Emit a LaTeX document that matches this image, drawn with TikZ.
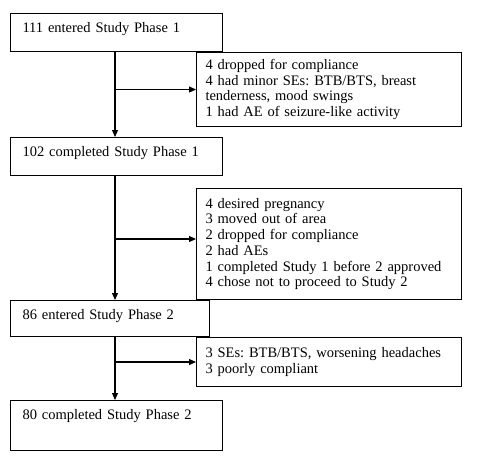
\documentclass[tikz,border=0pt]{standalone}
\usepackage{fontspec}
\setmainfont{Liberation Serif}
\usetikzlibrary{arrows.meta,positioning}
\frenchspacing

\begin{document}
\begin{tikzpicture}[
			x=1pt, y=-1pt,
			>={Triangle[length=7pt,width=6pt]},
			stage/.style={
				draw,
				line width=1pt,
				anchor=north west,
				align=left,
				font=\fontsize{14.5}{15.7}\selectfont,
				inner xsep=12pt,
				inner ysep=4pt,
				text height=15pt
			},
			excl/.style={
				draw,
				line width=1pt,
				anchor=north west,
				align=left,
				font=\fontsize{14.5}{15.7}\selectfont,
				inner xsep=9pt,
				text width=247pt
			}
			]
			
			\useasboundingbox (0,0) rectangle (478,466);
			
			% Main column
			\node[stage,text width=188pt,text depth=15pt] (enter1) at (10,13)
			{111 entered Study Phase 1};
			\node[stage,text width=188pt,text depth=15pt] (done1) at (10,137)
			{102 completed Study Phase 1};
			\node[stage,text width=175pt,text depth=13pt] (enter2) at (10,300)
			{86 entered Study Phase 2};
			\node[stage,text width=188pt,text depth=27pt] (done2) at (10,400)
			{80 completed Study Phase 2};
			
			% Exclusions
			\node[excl,minimum height=74pt] (drop1) at (196,52)
			{4 dropped for compliance\\
			4 had minor SEs: BTB/BTS, breast\\
			tenderness, mood swings\\
			1 had AE of seizure-like activity};
			\node[excl,minimum height=111pt] (drop2) at (196,188)
			{4 desired pregnancy\\
			3 moved out of area\\
			2 dropped for compliance\\
			2 had AEs\\
			1 completed Study 1 before 2 approved\\
			4 chose not to proceed to Study 2};
			\node[excl,minimum height=49pt] (drop3) at (196,337)
			{3 SEs: BTB/BTS, worsening headaches\\
			3 poorly compliant};
			
			% Spine
			\coordinate (spine) at (115,0);
			\coordinate (in2) at ([yshift=5pt]drop2.west);
			\draw[->,line width=1.1pt] (enter1.south -| spine) -- (done1.north -| spine);
			\draw[->,line width=1.1pt] (done1.south -| spine) -- (enter2.north -| spine);
			\draw[->,line width=1.1pt] (enter2.south -| spine) -- (done2.north -| spine);
			
			% Arrows out
			\draw[->,line width=1.1pt] (spine |- drop1.west) -- (drop1.west);
			\draw[->,line width=1.1pt] (spine |- in2) -- (in2);
			\draw[->,line width=1.1pt] (spine |- drop3.west) -- (drop3.west);
			
		\end{tikzpicture}
\end{document}
